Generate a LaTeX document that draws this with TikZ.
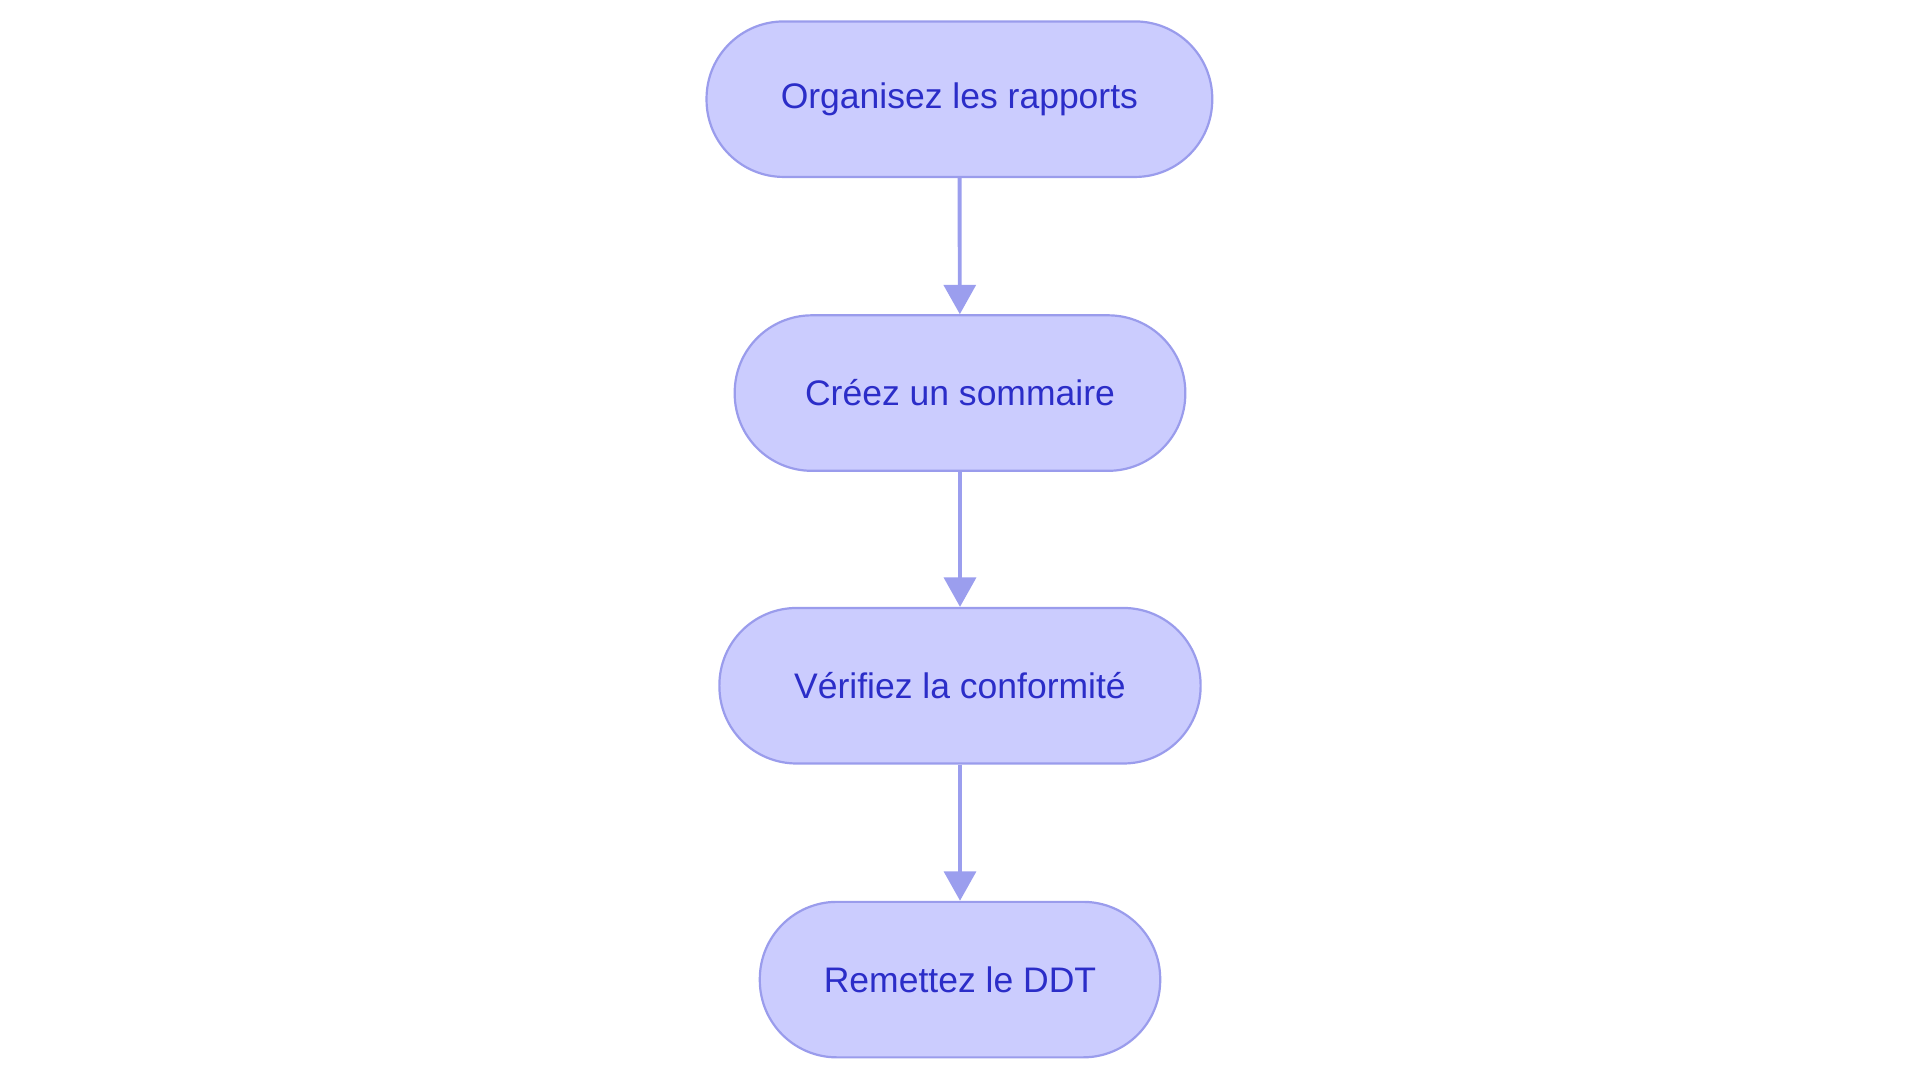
\documentclass[tikz,border=0pt]{standalone}
\usepackage{fontspec}
\setmainfont{Liberation Sans}
\usetikzlibrary{arrows.meta}
\definecolor{boxfill}{HTML}{CBCCFE}
\definecolor{boxline}{HTML}{9A9CEC}
\definecolor{boxtext}{HTML}{2B2DC8}
\definecolor{arr}{HTML}{9B9EEE}
\tikzset{
  stepbox/.style={draw=boxline, line width=0.9pt, fill=boxfill, text=boxtext,
    rounded corners=31.5pt, minimum height=63.5pt, inner sep=0pt, font=\fontsize{14.5}{17}\selectfont},
  link/.style={draw=arr, line width=1.6pt, -{Triangle[length=12pt,width=13pt]}}
}
\begin{document}
\begin{tikzpicture}[x=0.5pt,y=-0.5pt]
\useasboundingbox (0,0) rectangle (1568,884.5);
\node[stepbox, minimum width=206.5pt] (a) at (783.5,81) {Organisez les rapports};
\node[stepbox, minimum width=184pt] (b) at (784,321) {Créez un sommaire};
\node[stepbox, minimum width=196.5pt] (c) at (784,560) {Vérifiez la conformité};
\node[stepbox, minimum width=163.5pt] (d) at (784,800) {Remettez le DDT};
\draw[link] (a) -- (b);
\draw[link] (b) -- (c);
\draw[link] (c) -- (d);
\end{tikzpicture}
\end{document}
